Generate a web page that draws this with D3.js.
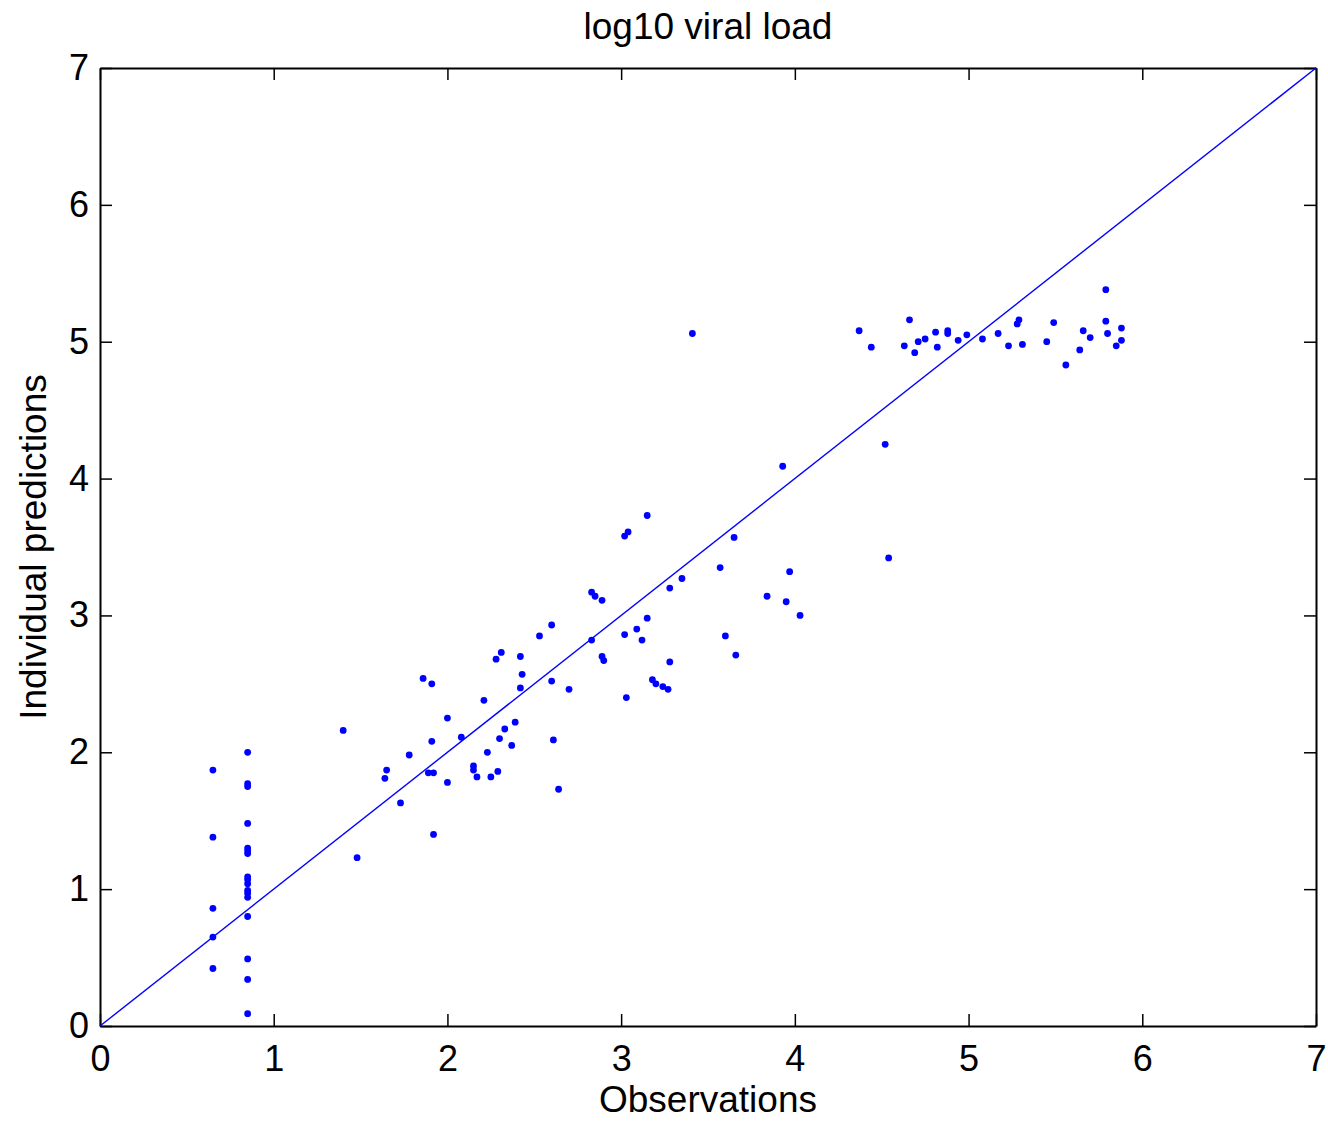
<html>
  <meta charset="utf-8" />
  <script src="https://d3js.org/d3.v7.min.js"></script>
  <style>
    body { margin: 0; background: #fff; }
    text { font-family: "Liberation Sans", Arial, sans-serif; }
  </style>
  <body>
    <svg id="chart" width="1328" height="1122"></svg>
    <script>
      // observations (x) and individual predictions (y), log10 viral load
      const obs = [
        0.65, 0.65, 0.65, 0.65, 0.65,
        0.85, 0.85, 0.85, 0.85, 0.85, 0.85, 0.85, 0.85, 0.85, 0.85, 0.85, 0.85, 0.85, 0.85, 0.85, 0.85, 0.85,
        1.40, 1.48, 1.65, 1.64, 1.73, 1.78, 1.86, 1.91, 1.91, 1.89, 1.92, 1.92, 2.00, 2.00, 2.08,
        2.15, 2.15, 2.17, 2.21, 2.23, 2.25, 2.29, 2.28, 2.31, 2.30, 2.33, 2.37, 2.39, 2.42, 2.43, 2.42,
        2.53, 2.60, 2.61, 2.64, 2.70, 2.60,
        3.15, 3.04, 3.02, 2.83, 2.85, 2.89, 2.83, 3.02, 3.15, 3.09, 3.12, 2.89, 2.90, 3.03,
        3.18, 3.20, 3.24, 3.27, 3.28, 3.28, 3.35, 3.65, 3.57, 3.60, 3.66, 3.84, 3.95, 3.97, 4.03,
        3.93, 4.52, 4.54, 3.41,
        4.37, 4.44, 4.63, 4.66, 4.69, 4.71, 4.75, 4.81, 4.82, 4.88, 4.88, 4.94, 4.99, 5.08, 5.17,
        5.23, 5.28, 5.29, 5.31, 5.45, 5.49, 5.56, 5.64, 5.66, 5.70, 5.79, 5.79, 5.80, 5.88, 5.88, 5.85
      ];
      const pred = [
        1.87, 1.38, 0.86, 0.65, 0.42,
        2.00, 1.77, 1.75, 1.48, 1.30, 1.28, 1.26, 1.09, 1.07, 1.04, 0.99, 0.97, 0.94, 0.80, 0.49, 0.34, 0.09,
        2.16, 1.23, 1.87, 1.81, 1.63, 1.98, 2.54, 2.50, 2.08, 1.85, 1.85, 1.40, 2.25, 1.78, 2.11,
        1.90, 1.87, 1.82, 2.38, 2.00, 1.82, 1.86, 2.68, 2.73, 2.10, 2.17, 2.05, 2.22, 2.70, 2.57, 2.47,
        2.85, 2.52, 2.09, 1.73, 2.46, 2.93,
        3.73, 3.61, 3.58, 3.17, 3.14, 3.11, 2.82, 2.86, 2.98, 2.90, 2.82, 2.70, 2.67, 2.40,
        2.53, 2.50, 2.48, 2.46, 2.66, 3.20, 3.27, 3.57, 3.35, 2.85, 2.71, 3.14, 3.10, 3.32, 3.00,
        4.09, 4.25, 3.42, 5.06,
        5.08, 4.96, 4.97, 5.16, 4.92, 5.00, 5.02, 5.07, 4.96, 5.08, 5.06, 5.01, 5.05, 5.02, 5.06,
        4.97, 5.13, 5.16, 4.98, 5.00, 5.14, 4.83, 4.94, 5.08, 5.03, 5.38, 5.15, 5.06, 5.10, 5.01, 4.97
      ];
      const ticks = [0, 1, 2, 3, 4, 5, 6, 7];

      const margin = { left: 100, right: 12, top: 68, bottom: 96 };
      const width = 1328 - margin.left - margin.right;
      const height = 1122 - margin.top - margin.bottom;

      const x = d3.scaleLinear().domain([0, 7]).range([0, width]);
      const y = d3.scaleLinear().domain([0, 7]).range([height, 0]);

      const svg = d3.select("#chart");
      const chart = svg
        .append("g")
        .attr("transform", `translate(${margin.left}, ${margin.top})`);

      // box + inward ticks on all four sides
      const tk = 12;
      const fontSize = 36;
      chart
        .append("g")
        .attr("transform", `translate(0, ${height})`)
        .call(d3.axisBottom(x).tickValues(ticks).tickSizeInner(-tk).tickSizeOuter(0).tickPadding(19).tickFormat(d3.format("d")));
      chart
        .append("g")
        .call(d3.axisTop(x).tickValues(ticks).tickSizeInner(-tk).tickSizeOuter(0).tickFormat(""));
      chart
        .append("g")
        .call(d3.axisLeft(y).tickValues(ticks).tickSizeInner(-tk).tickSizeOuter(0).tickPadding(11).tickFormat(d3.format("d")));
      chart
        .append("g")
        .attr("transform", `translate(${width}, 0)`)
        .call(d3.axisRight(y).tickValues(ticks).tickSizeInner(-tk).tickSizeOuter(0).tickFormat(""));

      chart.selectAll(".domain").attr("stroke", "#000").attr("stroke-width", 2);
      chart.selectAll(".tick line").attr("stroke", "#000").attr("stroke-width", 1.5);
      chart
        .selectAll(".tick text")
        .attr("fill", "#000")
        .style("font-size", fontSize + "px")
        .style("font-family", "Liberation Sans, Arial, sans-serif");

      // identity line
      chart
        .append("line")
        .attr("x1", x(0))
        .attr("y1", y(0))
        .attr("x2", x(7))
        .attr("y2", y(7))
        .attr("stroke", "#0000ff")
        .attr("stroke-width", 1.4);

      chart
        .selectAll(".dot")
        .data(obs.map((d, i) => [d, pred[i]]))
        .enter()
        .append("circle")
        .attr("class", "dot")
        .attr("cx", (d) => x(d[0]))
        .attr("cy", (d) => y(d[1]))
        .attr("r", 3.4)
        .attr("fill", "#0000ff");

      svg
        .append("text")
        .attr("x", margin.left + width / 2)
        .attr("y", 39)
        .attr("text-anchor", "middle")
        .style("font-size", "37px")
        .text("log10 viral load");

      svg
        .append("text")
        .attr("x", margin.left + width / 2)
        .attr("y", 1112)
        .attr("text-anchor", "middle")
        .style("font-size", "37px")
        .text("Observations");

      svg
        .append("text")
        .attr("transform", `translate(46, ${margin.top + height / 2}) rotate(-90)`)
        .attr("text-anchor", "middle")
        .style("font-size", "37px")
        .text("Individual predictions");
    </script>
  </body>
</html>
